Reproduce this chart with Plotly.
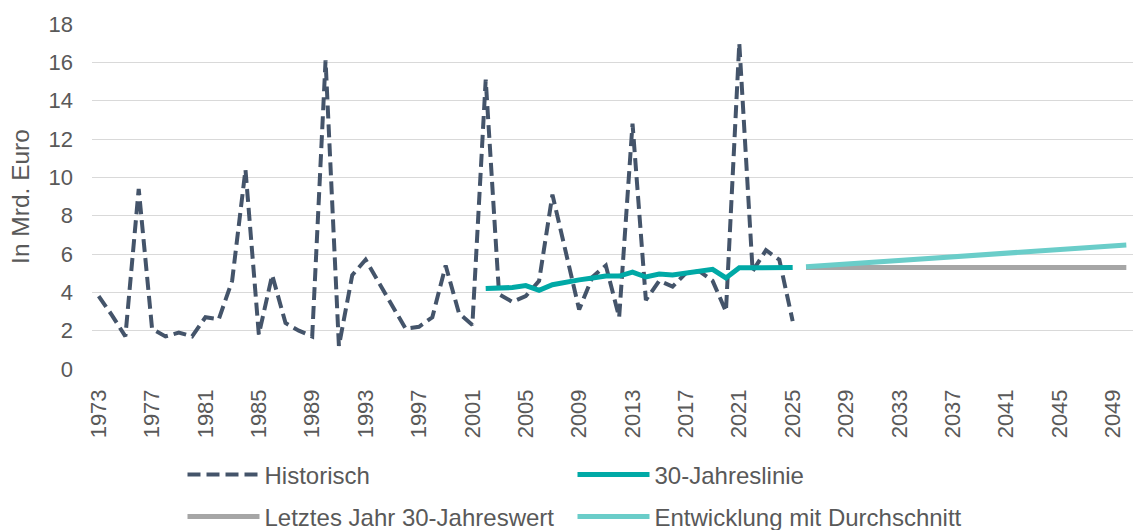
import plotly.graph_objects as go

# ---- data ----
years_hist = list(range(1973, 2026))
historisch = [3.8, 2.8, 1.7, 9.4, 2.1, 1.7, 1.9, 1.7, 2.7, 2.6,
              4.6, 10.4, 1.8, 4.9, 2.4, 2.0, 1.7, 16.1, 1.2, 4.9,
              5.7, 4.5, 3.3, 2.1, 2.2, 2.7, 5.4, 2.9, 2.3, 15.1,
              3.9, 3.5, 3.8, 4.6, 9.1, 6.2, 3.1, 4.8, 5.4, 2.7,
              12.8, 3.6, 4.6, 4.3, 5.0, 5.1, 4.6, 3.0, 17.0, 5.1,
              6.2, 5.7, 2.5]

years_30 = list(range(2002, 2026))
jahreslinie_30 = [4.2, 4.2, 4.25, 4.35, 4.1, 4.4, 4.55, 4.65, 4.75, 4.85,
                  4.85, 5.05, 4.8, 4.95, 4.9, 5.0, 5.1, 5.2, 4.75, 5.28,
                  5.28, 5.3, 5.32, 5.3]

years_future = list(range(2026, 2051))
letztes_jahr = [5.3] * 25
entwicklung = [5.33, 5.38, 5.43, 5.47, 5.52, 5.57, 5.62, 5.66, 5.71, 5.76,
               5.81, 5.85, 5.90, 5.95, 6.00, 6.04, 6.09, 6.14, 6.19, 6.23,
               6.28, 6.33, 6.38, 6.42, 6.47]

tick_years = list(range(1973, 2050, 4))
tick_labels = [str(y) for y in tick_years]

FONT = "Liberation Sans, Arial, sans-serif"
TXT = "#595959"

fig = go.Figure()
fig.add_trace(go.Scatter(x=years_hist, y=historisch, mode="lines", name="Historisch",
                         line=dict(color="#44546A", width=4, dash="13px,6px"),
                         legend="legend"))
fig.add_trace(go.Scatter(x=years_30, y=jahreslinie_30, mode="lines", name="30-Jahreslinie",
                         line=dict(color="#00A9A6", width=5), legend="legend"))
fig.add_trace(go.Scatter(x=years_future, y=letztes_jahr, mode="lines",
                         name="Letztes Jahr 30-Jahreswert",
                         line=dict(color="#A6A6A6", width=5), legend="legend2"))
fig.add_trace(go.Scatter(x=years_future, y=entwicklung, mode="lines",
                         name="Entwicklung mit Durchschnitt",
                         line=dict(color="#6ACDC9", width=5), legend="legend2"))

leg_common = dict(orientation="h", xanchor="left", yanchor="middle",
                  font=dict(family=FONT, size=24, color=TXT),
                  itemwidth=72, entrywidth=303, entrywidthmode="pixels",
                  bgcolor="rgba(0,0,0,0)", traceorder="normal")

fig.update_layout(
    width=1133, height=530,
    margin=dict(l=92, r=0, t=24, b=161, autoexpand=False),
    paper_bgcolor="white", plot_bgcolor="white",
    font=dict(family=FONT, color=TXT),
    showlegend=True,
    legend=dict(x=(182.5 - 92) / 1041, y=(369 - 475) / 345, **leg_common),
    legend2=dict(x=(182.5 - 92) / 1041, y=(369 - 517) / 345, **leg_common),
    xaxis=dict(range=[1972.5, 2050.5], tickmode="array", tickvals=tick_years,
               ticktext=tick_labels, tickangle=-90, showgrid=False, zeroline=False,
               showline=False, ticks="", ticklabelstandoff=15,
               tickfont=dict(family=FONT, size=22, color=TXT), automargin=False),
    yaxis=dict(range=[0, 18], tickmode="linear", tick0=0, dtick=2,
               showgrid=True, gridcolor="#D9D9D9", gridwidth=1.3,
               zeroline=False, showline=False, ticks="", ticklabelstandoff=18,
               tickfont=dict(family=FONT, size=22, color=TXT), automargin=False,
               title=dict(text="In Mrd. Euro", standoff=11,
                          font=dict(family=FONT, size=24.5, color=TXT))),
)

fig.write_html("out.html", config={"displayModeBar": False},
               post_script="document.body.style.margin='0px';"
                           "document.body.style.overflow='hidden';")
